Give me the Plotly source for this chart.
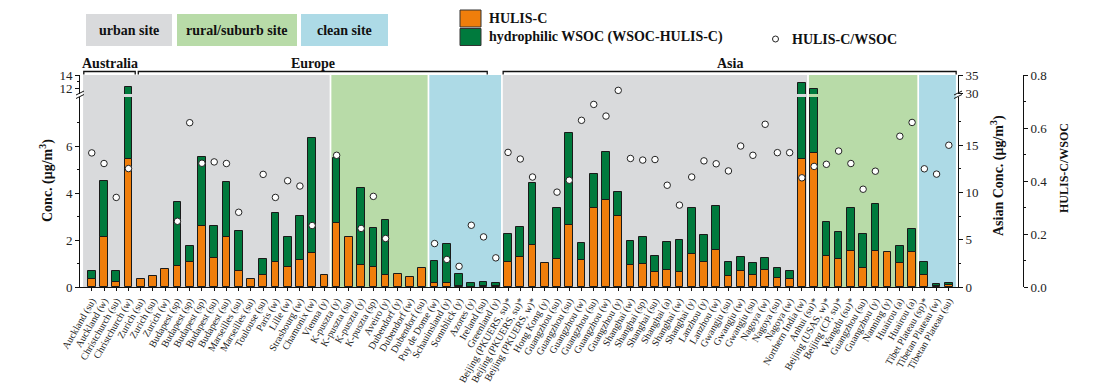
import plotly.graph_objects as go

labels = [
    "Auckland (su)", "Auckland (w)", "Christchurch (su)", "Christchurch (w)",
    "Zurich (su)", "Zurich (su)", "Zurich (w)", "Budapest (sp)", "Budapest (sp)", "Budapest (sp)",
    "Budapest (su)", "Budapest (su)", "Marseilles (su)", "Marseilles (su)", "Toulouse (su)",
    "Paris (w)", "Lille (w)", "Strasbourg (w)", "Chamonix (w)", "Vienna (y)",
    "K-puszta (y)", "K-puszta (su)", "K-puszta (y)", "K-puszta (sp)", "Aveiro (y)",
    "Dubendorf (y)", "Dubendorf (w)", "Dubendorf (su)",
    "Puy de Dome (w)", "Schauinsland (y)", "Sonnblick (y)", "Azores (y)", "Ireland (su)", "Greenland (y)",
    "Beijing (PKUERS, su)*", "Beijing (PKUERS, su)*", "Beijing (PKUERS, w)*", "Hong Kong (y)",
    "Guangzhou (su)", "Guangzhou (su)", "Guangzhou (w)", "Guangzhou (su)", "Guangzhou (w)", "Guangzhou (y)",
    "Shanghai (w)", "Shanghai (sp)", "Shanghai (su)", "Shanghai (a)", "Shanghai (w)", "Shanghai (y)",
    "Lanzhou (y)", "Lanzhou (w)", "Gwangju (su)", "Gwangju (w)", "Gwangju (su)",
    "Nagoya (w)", "Nagoya (su)", "Nagoya (w)", "Northern India (w)",
    "Anhui (su)*", "Beijing (USAS, w)*", "Beijing (CP, su)*", "Wangdu (su)*", "Guangzhou (su)",
    "Guangzhou (y)", "Nanning (y)", "Huairou (a)", "Huairou (a)",
    "Tibet Plateau (sp)*", "Tibetan Plateau (w)", "Tibetan Plateau (su)",
]

hulis_c = [
    0.36, 2.11, 0.23, 5.43,
    0.32, 0.47, 0.75, 0.90, 1.08, 2.59, 1.24, 2.11, 0.67, 0.36, 0.51, 1.07, 0.85, 1.15, 1.45, 0.50,
    2.73, 2.12, 0.93, 0.85, 0.52, 0.56, 0.44, 0.82,
    0.16, 0.18, 0.03, 0.02, 0.03, 0.03,
    2.69, 3.15, 4.42, 2.55, 3.00, 6.58, 2.90, 8.31, 9.23, 7.50,
    2.37, 2.48, 1.63, 1.84, 1.56, 3.50, 2.62, 3.96, 1.20, 1.70, 1.24, 1.84, 0.99, 0.85, 13.54,
    14.15, 3.26, 3.00, 3.86, 2.06, 3.86, 3.71, 2.51, 3.75,
    1.31, 0.10, 0.22,
]

hydrophilic = [
    0.34, 2.40, 0.47, 6.77,
    None, None, None, 2.70, 0.67, 2.93, 1.35, 2.37, 1.71, None, 0.68, 2.10, 1.27, 1.89, 4.88, None,
    2.75, None, 3.27, 1.65, 2.35, None, None, None,
    0.93, 1.67, 0.52, 0.14, 0.17, 0.15,
    2.87, 3.18, 6.58, None, 5.31, 9.72, 1.80, 3.69, 5.07, 2.60,
    2.51, 2.79, 1.70, 2.87, 3.46, 4.85, 2.83, 4.56, 1.49, 1.52, 1.34, 1.27, 0.99, 0.85, 19.31,
    17.22, 3.60, 2.80, 4.52, 3.56, 4.88, None, 1.81, 2.34,
    1.38, 0.26, 0.25,
]

ratio = [
    0.506, 0.466, 0.338, 0.447,
    None, None, None, 0.248, 0.620, 0.467, 0.472, 0.466, 0.282, None, 0.425, 0.338, 0.401, 0.381, 0.232, None,
    0.497, None, 0.221, 0.342, 0.183, None, None, None,
    0.164, 0.104, 0.078, 0.233, 0.189, 0.110,
    0.508, 0.483, 0.415, None, 0.358, 0.403, 0.629, 0.689, 0.645, 0.742,
    0.485, 0.479, 0.481, 0.384, 0.309, 0.415, 0.476, 0.465, 0.438, 0.532, 0.497, 0.614, 0.507, 0.507, 0.412,
    0.455, 0.463, 0.513, 0.466, 0.369, 0.437, None, 0.569, 0.621,
    0.446, 0.426, 0.535,
]

continent = ["Australia"] * 4 + ["Europe"] * 30 + ["Asia"] * 37
site_type = (["urban"] * 20 + ["rural"] * 8 + ["clean"] * 6 +
             ["urban"] * 25 + ["rural"] * 9 + ["clean"] * 3)

site_names = {"urban": "urban site", "rural": "rural/suburb site", "clean": "clean site"}

# ---------------- styling / geometry ----------------
ORANGE = "#F07E0B"
GREEN = "#007A3D"
BG = {"urban": "#D9DADC", "rural": "#B8DBA8", "clean": "#ADDAE6"}
SERIF = "Liberation Serif"
OFF = 8                      # page body margin
W, H = 1113 - OFF, 385 - OFF
PL, PR, PT, PB = 80, 1023, 75, 287   # plot box in window pixels (PR = ratio axis)
ML, MT = PL - OFF, PT - OFF
MR, MB = W - (PR - OFF), H - (PB - OFF)
PW, PH = PR - PL, PB - PT
XDOM = (958 - PL) / PW
XR = [-0.96, 70.75]


def px(xp):
    return (xp - PL) / PW


def py(yp):
    return (PB - yp) / PH


LOW_TOP = py(97)
UP_BOT = py(94)

n = len(labels)
xs = list(range(n))
is_asia = [c == "Asia" for c in continent]


def pick(vals, asia):
    return [v if a == asia else None for v, a in zip(vals, is_asia)]


fig = go.Figure()
bar_line = dict(color="#1a1a1a", width=1)
for asia, ylow, yhigh in [(False, "y", "y3"), (True, "y2", "y4")]:
    for xa, ya in [("x", ylow), ("x2", yhigh)]:
        fig.add_trace(go.Bar(x=xs, y=pick(hulis_c, asia), xaxis=xa, yaxis=ya, width=0.63,
                             marker=dict(color=ORANGE, line=bar_line), name="HULIS-C",
                             showlegend=False))
        fig.add_trace(go.Bar(x=xs, y=pick(hydrophilic, asia), base=pick(hulis_c, asia),
                             xaxis=xa, yaxis=ya, width=0.63,
                             marker=dict(color=GREEN, line=bar_line),
                             name="hydrophilic WSOC (WSOC-HULIS-C)", showlegend=False))

fig.add_trace(go.Scatter(x=xs, y=ratio, xaxis="x", yaxis="y5", mode="markers",
                         marker=dict(symbol="circle", size=6.5, color="white",
                                     line=dict(color="#222", width=1)),
                         name="HULIS-C/WSOC", showlegend=False, cliponaxis=False))

shapes = []
annotations = []

# site-type background bands
runs = []
start = 0
for i in range(1, n + 1):
    if i == n or site_type[i] != site_type[start]:
        runs.append((start, i - 1, site_type[start]))
        start = i
for s, e, t in runs:
    x0 = XR[0] + 0.25 if s == 0 else s - 0.5 + 0.07
    x1 = e + 0.58 if e == n - 1 else e + 0.5 - 0.07
    shapes.append(dict(type="rect", xref="x", yref="paper", x0=x0, x1=x1, y0=0, y1=1,
                       fillcolor=BG[t], line=dict(width=0), layer="below"))

# continent brackets
bracket_span = {"Australia": (-0.65, 3.55), "Europe": (3.8, 32.3), "Asia": (33.6, 70.6)}
yb = py(71.5)
yt = py(74.5)
for name, (b0, b1) in bracket_span.items():
    shapes.append(dict(type="path", xref="x", yref="paper",
                       path=f"M {b0},{yt} L {b0},{yb} L {b1},{yb} L {b1},{yt}",
                       line=dict(color="#111", width=1.3)))
    annotations.append(dict(x=(b0 + b1) / 2, y=py(63), xref="x", yref="paper", text=f"<b>{name}</b>",
                            showarrow=False, font=dict(family=SERIF, size=14, color="#111"),
                            xanchor="center", yanchor="middle"))

# axis break marks
for xp in (80, 958):
    for dy in (0, 3.5):
        shapes.append(dict(type="line", xref="paper", yref="paper",
                           x0=px(xp - 4), x1=px(xp + 4), y0=py(98.5 - dy), y1=py(94.5 - dy),
                           line=dict(color="#111", width=1)))

# legend: site boxes
site_boxes = [("urban", 86, 172), ("rural", 177, 297), ("clean", 301, 388)]
for t, x0, x1 in site_boxes:
    shapes.append(dict(type="rect", xref="paper", yref="paper", x0=px(x0), x1=px(x1),
                       y0=py(46), y1=py(14), fillcolor=BG[t], line=dict(width=0)))
    annotations.append(dict(x=px((x0 + x1) / 2), y=py(30), xref="paper", yref="paper",
                            text=f"<b>{site_names[t]}</b>", showarrow=False,
                            xanchor="center", yanchor="middle",
                            font=dict(family=SERIF, size=14, color="#111")))

# legend: series
for col, y0, y1, txt, ty in [(ORANGE, 10, 27, "HULIS-C", 18.5),
                             (GREEN, 28.5, 45.5, "hydrophilic WSOC (WSOC-HULIS-C)", 37)]:
    shapes.append(dict(type="rect", xref="paper", yref="paper", x0=px(460), x1=px(481),
                       y0=py(y1), y1=py(y0), fillcolor=col, line=dict(color="#333", width=1)))
    annotations.append(dict(x=px(487), y=py(ty), xref="paper", yref="paper", text=f"<b>{txt}</b>",
                            showarrow=False, xanchor="left", yanchor="middle",
                            font=dict(family=SERIF, size=14, color="#111")))
shapes.append(dict(type="circle", xref="paper", yref="paper", x0=px(772.5), x1=px(778.5),
                   y0=py(42), y1=py(36), fillcolor="white", line=dict(color="#222", width=1)))
annotations.append(dict(x=px(790), y=py(39), xref="paper", yref="paper", text="<b>HULIS-C/WSOC</b>",
                        showarrow=False, xanchor="left", yanchor="middle",
                        font=dict(family=SERIF, size=14, color="#111")))

# axis titles
annotations.append(dict(x=px(46), y=py(181), xref="paper", yref="paper",
                        text="<b>Conc. (μg/m<sup>3</sup>)</b>", textangle=-90, showarrow=False,
                        xanchor="center", yanchor="middle",
                        font=dict(family=SERIF, size=14, color="#111")))
annotations.append(dict(x=px(997), y=py(176), xref="paper", yref="paper",
                        text="<b>Asian Conc. (μg/m<sup>3</sup>)</b>", textangle=-90, showarrow=False,
                        xanchor="center", yanchor="middle",
                        font=dict(family=SERIF, size=14, color="#111")))
annotations.append(dict(x=px(1064), y=py(168), xref="paper", yref="paper",
                        text="<b>HULIS-C/WSOC</b>", textangle=-90, showarrow=False,
                        xanchor="center", yanchor="middle",
                        font=dict(family=SERIF, size=12, color="#111")))

tickfont = dict(family=SERIF, size=13, color="#222")
yax_common = dict(showline=True, linecolor="#111", linewidth=1, ticks="outside", ticklen=4,
                  tickcolor="#111", showgrid=False, zeroline=False, tickfont=tickfont)

fig.update_layout(
    width=W, height=H, margin=dict(l=ML, r=MR, t=MT, b=MB, autoexpand=False),
    paper_bgcolor="white", plot_bgcolor="rgba(0,0,0,0)",
    barmode="overlay", bargap=0, showlegend=False,
    xaxis=dict(domain=[0, XDOM], range=XR, anchor="y", tickmode="array", tickvals=xs, ticktext=labels,
               tickangle=-60, tickfont=dict(family=SERIF, size=10, color="#222"),
               showline=True, linecolor="#111", linewidth=1, ticks="outside", ticklen=3,
               tickcolor="#111", showgrid=False, zeroline=False),
    xaxis2=dict(domain=[0, XDOM], range=XR, anchor="y3", matches="x", showticklabels=False,
                showline=False, ticks="", showgrid=False, zeroline=False),
    yaxis=dict(domain=[0, LOW_TOP], range=[0, 8.09], anchor="x", side="left",
               tickmode="array", tickvals=[0, 2, 4, 6],
               minor=dict(tickmode="array", tickvals=[1, 3, 5, 7], ticks="outside", ticklen=2,
                          tickcolor="#111"), **yax_common),
    yaxis2=dict(range=[0, 20.1], overlaying="y", anchor="x", side="right",
                tickmode="array", tickvals=[0, 5, 10, 15],
                minor=dict(tickmode="array", tickvals=[2.5, 7.5, 12.5, 17.5], ticks="outside",
                           ticklen=2, tickcolor="#111"), **yax_common),
    yaxis3=dict(domain=[UP_BOT, 1], range=[11.08, 14], anchor="x2", side="left",
                tickmode="array", tickvals=[12, 14],
                minor=dict(tickmode="array", tickvals=[13], ticks="outside", ticklen=2,
                           tickcolor="#111"), **yax_common),
    yaxis4=dict(range=[29.9, 35], overlaying="y3", anchor="x2", side="right",
                tickmode="array", tickvals=[30, 35], **yax_common),
    yaxis5=dict(domain=[0, 1], range=[0, 0.8], anchor="free", position=1, side="right",
                tickmode="array", tickvals=[0, 0.2, 0.4, 0.6, 0.8],
                ticktext=["0.0", "0.2", "0.4", "0.6", "0.8"],
                minor=dict(tickmode="array", tickvals=[0.1, 0.3, 0.5, 0.7], ticks="outside",
                           ticklen=2, tickcolor="#111"), **yax_common),
    shapes=shapes, annotations=annotations,
)

fig.write_html("out.html")
